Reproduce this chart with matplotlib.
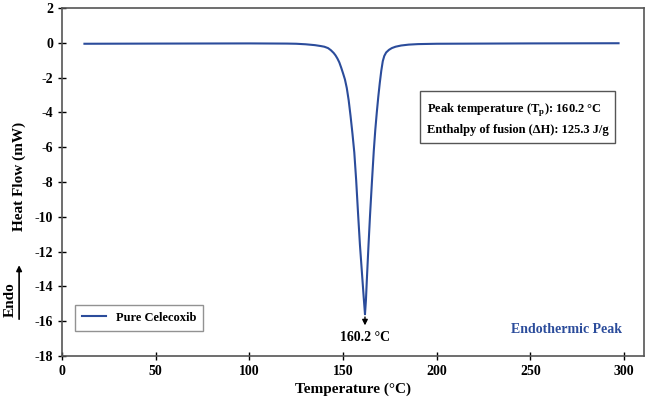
import matplotlib
matplotlib.use("Agg")
import matplotlib.pyplot as plt

plt.rcParams['font.family'] = ['Liberation Serif', 'DejaVu Serif']
plt.rcParams['font.weight'] = 'bold'
plt.rcParams['mathtext.fontset'] = 'custom'
plt.rcParams['mathtext.rm'] = 'Liberation Serif:bold'
plt.rcParams['mathtext.bf'] = 'Liberation Serif:bold'
plt.rcParams['axes.unicode_minus'] = False

# DSC thermogram of pure celecoxib
temperature = [12, 50, 100, 120, 125, 130, 135, 138, 140, 142, 143.5, 145, 146, 147,
               148, 149, 150, 151, 152, 153, 154, 155, 156, 157, 158, 159, 160, 161,
               161.7, 162.2, 162.7, 163.5, 164.4, 165.4, 166.4, 167.2, 168, 168.8,
               169.6, 170.4, 171.2, 172, 173, 174.5, 176, 178, 181, 185, 190, 200,
               250, 297]
heat_flow = [-0.05, -0.04, -0.03, -0.04, -0.05, -0.08, -0.13, -0.18, -0.22, -0.3,
             -0.42, -0.58, -0.72, -0.9, -1.12, -1.42, -1.75, -2.1, -2.6, -3.3, -4.2,
             -5.2, -6.3, -7.9, -9.8, -11.6, -13.1, -14.6, -15.6, -14.8, -13.6, -11.8,
             -9.9, -8.0, -6.2, -5.0, -4.0, -3.1, -2.3, -1.6, -1.05, -0.75, -0.55,
             -0.4, -0.3, -0.22, -0.15, -0.1, -0.07, -0.05, -0.03, -0.02]

peak_label = '160.2 °C'
peak_x, peak_y = 161.7, -15.6
x_ticks = [0, 50, 100, 150, 200, 250, 300]
y_ticks = [2, 0, -2, -4, -6, -8, -10, -12, -14, -16, -18]

line_color = '#2b4c9b'

fig = plt.figure(figsize=(6.59, 4.05), dpi=100)
ax = fig.add_axes([0.094, 0.121, 0.883, 0.859])

ax.plot(temperature, heat_flow, color=line_color, lw=1.5, label='Pure Celecoxib')

ax.set_xlim(0, 310.5)
ax.set_ylim(-18, 2)
ax.set_xticks(x_ticks)
ax.set_yticks(y_ticks)
ax.tick_params(direction='inout', length=6, width=1, labelsize=10, colors='black')
for s in ax.spines.values():
    s.set_color('#555555')
    s.set_linewidth(1.2)

ax.set_xlabel('Temperature (°C)', fontsize=11, fontweight='bold', labelpad=3)
ax.set_ylabel('Heat Flow (mW)', fontsize=11, fontweight='bold')
ax.yaxis.set_label_coords(-0.062, 0.517)

# arrow at the peak
ax.annotate('', xy=(peak_x, -16.4), xytext=(peak_x, peak_y),
            arrowprops=dict(arrowstyle='-|>', color='black', lw=1, mutation_scale=8))
ax.text(peak_x, -16.95, peak_label, ha='center', va='center', fontsize=10, fontweight='bold')

ax.text(0.962, 0.075, 'Endothermic Peak', transform=ax.transAxes, ha='right', va='center',
        fontsize=10, fontweight='bold', color=line_color)

ax.text(0.627, 0.682,
        'Peak temperature (T$_\\mathbf{p}$): 160.2 °C\nEnthalpy of fusion (ΔH): 125.3 J/g',
        transform=ax.transAxes, ha='left', va='center', fontsize=9, fontweight='bold',
        linespacing=1.65,
        bbox=dict(boxstyle='square,pad=0.55', facecolor='white', edgecolor='#555555', lw=1))

leg = ax.legend(loc='lower left', bbox_to_anchor=(0.012, 0.055), fancybox=False,
                edgecolor='#777777', fontsize=9, handlelength=1.9, borderpad=0.55)
leg.get_frame().set_linewidth(1)

# Endo arrow outside the axes
fig.text(0.016, 0.26, 'Endo', rotation=90, ha='center', va='center', fontsize=11,
         fontweight='bold')
fig.add_artist(matplotlib.patches.FancyArrowPatch((0.029, 0.205), (0.029, 0.352),
                                                   transform=fig.transFigure,
                                                   arrowstyle='-|>', mutation_scale=8,
                                                   color='black', lw=1.2))

fig.savefig('out.png', dpi=100)
